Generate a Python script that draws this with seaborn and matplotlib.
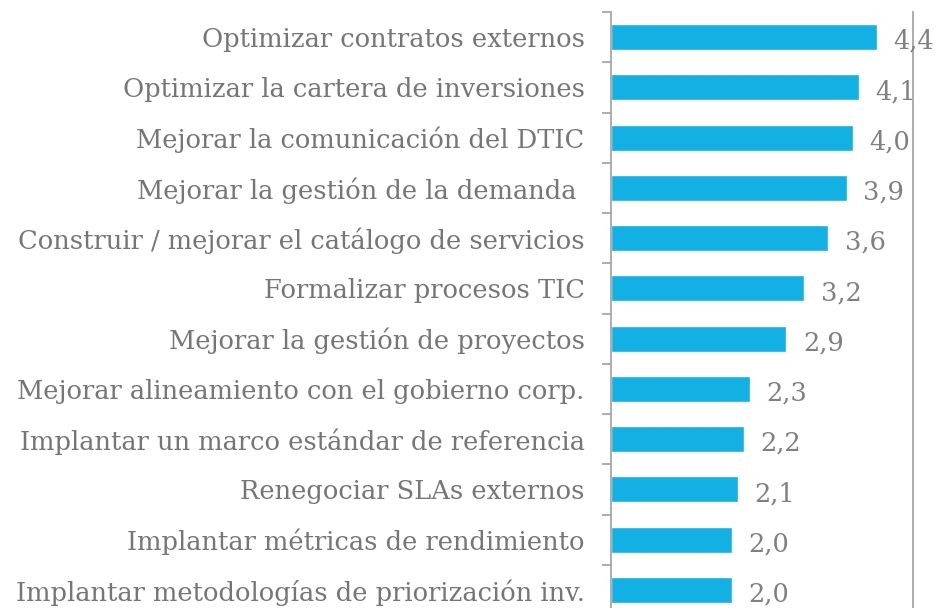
import matplotlib
matplotlib.use("Agg")
import matplotlib.pyplot as plt
import seaborn as sns
import pandas as pd

# Data
categorias = [
    "Optimizar contratos externos",
    "Optimizar la cartera de inversiones",
    "Mejorar la comunicación del DTIC",
    "Mejorar la gestión de la demanda ",
    "Construir / mejorar el catálogo de servicios",
    "Formalizar procesos TIC",
    "Mejorar la gestión de proyectos",
    "Mejorar alineamiento con el gobierno corp.",
    "Implantar un marco estándar de referencia",
    "Renegociar SLAs externos",
    "Implantar métricas de rendimiento",
    "Implantar metodologías de priorización inv.",
]
valores = [4.4, 4.1, 4.0, 3.9, 3.6, 3.2, 2.9, 2.3, 2.2, 2.1, 2.0, 2.0]

df = pd.DataFrame({"categoria": categorias, "valor": valores})

sns.set_theme(style="white")
plt.rcParams['font.family'] = ['DejaVu Serif']

color_barra = "#12B0E3"
gris_eje = "#A6A6A6"
gris_texto = "#767676"

fig = plt.figure(figsize=(9.37, 6.08), dpi=100)
# axis runs a little past the bottom edge, as in the original crop
ax = fig.add_axes([611 / 937, 1 - 615 / 608, 302 / 937, 603 / 608])

sns.barplot(data=df, x="valor", y="categoria", orient="h", color=color_barra,
            width=0.52, saturation=1, ax=ax)

ax.set_xlim(0, 5)
ax.set_ylim(len(categorias) - 0.5, -0.5)
ax.set_xlabel("")
ax.set_ylabel("")
ax.set_xticks([])

for s in ["top", "bottom"]:
    ax.spines[s].set_visible(False)
for s in ["left", "right"]:
    ax.spines[s].set_color(gris_eje)
    ax.spines[s].set_linewidth(1.3)

# labels at category centres, tick marks at boundaries
ax.tick_params(axis="y", which="major", length=0, pad=19, labelsize=18.5, labelcolor=gris_texto)
ax.set_yticks(range(len(categorias)), categorias)
ax.set_yticks([i - 0.5 for i in range(len(categorias) + 1)], minor=True)
ax.tick_params(axis="y", which="minor", length=6.5, width=1.3, color=gris_eje, left=True)

for i, v in enumerate(valores):
    ax.annotate(f"{v:.1f}".replace(".", ","), (v, i), xytext=(12, -3), textcoords="offset points",
                va="center", ha="left", fontsize=18.5, color="#808080")

fig.savefig("out.png", dpi=100)
